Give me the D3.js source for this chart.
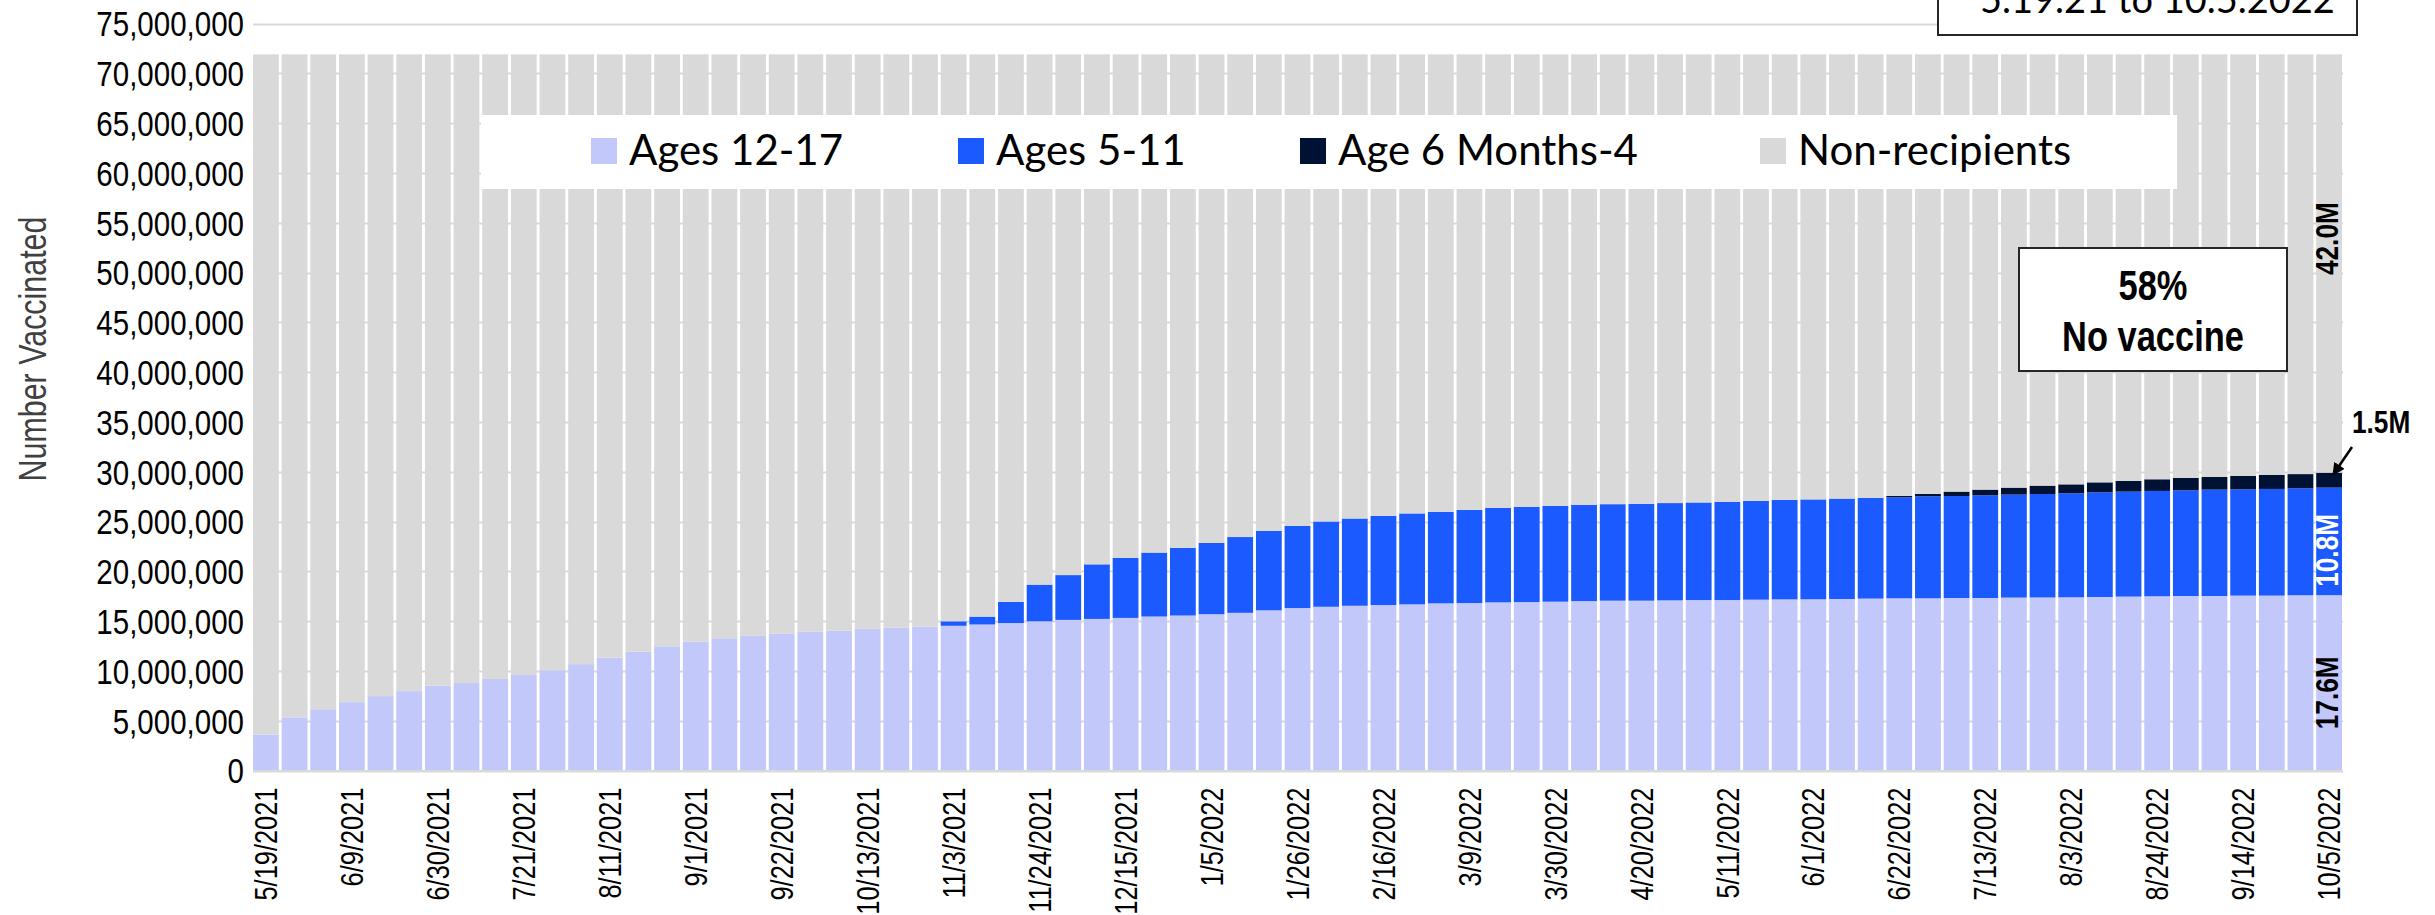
<!DOCTYPE html>
<meta charset="utf-8">
<html>
<head>
    <script src="https://cdn.jsdelivr.net/npm/d3@7"></script>
    <style>
        body { margin: 0; background: #fff; }
        .narrow { font-family: 'Liberation Sans', Arial, sans-serif; }
        .calib { font-family: Lato, Carlito, Calibri, sans-serif; }
    </style>
</head>
<body>
    <script>
    // weekly report dates
    var dates = [
        "5/19/2021","5/26/2021","6/2/2021","6/9/2021","6/16/2021","6/23/2021","6/30/2021",
        "7/7/2021","7/14/2021","7/21/2021","7/28/2021","8/4/2021","8/11/2021","8/18/2021",
        "8/25/2021","9/1/2021","9/8/2021","9/15/2021","9/22/2021","9/29/2021","10/6/2021",
        "10/13/2021","10/20/2021","10/27/2021","11/3/2021","11/10/2021","11/17/2021","11/24/2021",
        "12/1/2021","12/8/2021","12/15/2021","12/22/2021","12/29/2021",
        "1/5/2022","1/12/2022","1/19/2022","1/26/2022","2/2/2022","2/9/2022","2/16/2022",
        "2/23/2022","3/2/2022","3/9/2022","3/16/2022","3/23/2022","3/30/2022","4/6/2022",
        "4/13/2022","4/20/2022","4/27/2022","5/4/2022","5/11/2022","5/18/2022","5/25/2022",
        "6/1/2022","6/8/2022","6/15/2022","6/22/2022","6/29/2022","7/6/2022","7/13/2022",
        "7/20/2022","7/27/2022","8/3/2022","8/10/2022","8/17/2022","8/24/2022","8/31/2022",
        "9/7/2022","9/14/2022","9/21/2022","9/28/2022","10/5/2022"
    ];

    // millions of people
    var ages12to17 = [
        3.61, 5.34, 6.15, 6.86, 7.47, 7.97, 8.51, 8.78, 9.19, 9.59, 10.07, 10.68, 11.32, 11.93,
        12.47, 12.94, 13.28, 13.52, 13.72, 13.93, 14.03, 14.23, 14.33, 14.43, 14.53, 14.66, 14.80,
        14.98, 15.12, 15.22, 15.32, 15.46, 15.56, 15.69, 15.83, 16.08, 16.31, 16.44, 16.54, 16.61,
        16.68, 16.78, 16.81, 16.88, 16.91, 16.95, 17.01, 17.05, 17.05, 17.08, 17.11, 17.11, 17.15,
        17.18, 17.19, 17.22, 17.26, 17.29, 17.29, 17.32, 17.32, 17.36, 17.37, 17.39, 17.42, 17.46,
        17.49, 17.52, 17.52, 17.56, 17.56, 17.59, 17.60
    ];
    var ages5to11 = [
        0, 0, 0, 0, 0, 0, 0, 0, 0, 0, 0, 0, 0, 0, 0, 0, 0, 0, 0, 0, 0, 0, 0, 0,
        0.45, 0.79, 2.13, 3.68, 4.50, 5.48, 6.02, 6.42, 6.79, 7.16, 7.61, 7.98, 8.25, 8.56, 8.76,
        8.96, 9.13, 9.19, 9.36, 9.50, 9.57, 9.63, 9.67, 9.69, 9.73, 9.77, 9.80, 9.87, 9.93, 10.00,
        10.03, 10.08, 10.12, 10.14, 10.24, 10.24, 10.31, 10.34, 10.39, 10.44, 10.51, 10.54, 10.58,
        10.61, 10.68, 10.67, 10.71, 10.74, 10.80
    ];
    var ages6moTo4 = [
        0, 0, 0, 0, 0, 0, 0, 0, 0, 0, 0, 0, 0, 0, 0, 0, 0, 0, 0, 0, 0, 0, 0, 0, 0, 0, 0, 0, 0, 0,
        0, 0, 0, 0, 0, 0, 0, 0, 0, 0, 0, 0, 0, 0, 0, 0, 0, 0, 0, 0, 0, 0, 0, 0, 0, 0, 0,
        0.13, 0.23, 0.44, 0.57, 0.70, 0.84, 0.90, 1.00, 1.07, 1.17, 1.24, 1.27, 1.34, 1.40, 1.43, 1.50
    ];
    // total population under 18 (17.6M + 10.8M + 1.5M + 42.0M)
    var population = 71.9;

    var seriesKeys = ["a12", "a5", "a0", "none"];
    var seriesNames = ["Ages 12-17", "Ages 5-11", "Age 6 Months-4", "Non-recipients"];
    var seriesColors = ["#c3c8fb", "#1a5aff", "#001233", "#d9d9d9"];
    var yTickValues = [0, 5, 10, 15, 20, 25, 30, 35, 40, 45, 50, 55, 60, 65, 70, 75];

    var rows = dates.map(function(d, i) {
        var vax = ages12to17[i] + ages5to11[i] + ages6moTo4[i];
        return { date: d, a12: ages12to17[i], a5: ages5to11[i], a0: ages6moTo4[i], none: population - vax };
    });

    var NARROW = "scale(0.82,1)";  // no Arial Narrow installed, squeeze Liberation Sans

    var W = 2435, H = 915;
    var svg = d3.select("body").append("svg")
        .attr("width", W)
        .attr("height", H);

    var x = d3.scaleBand()
        .domain(dates)
        .range([253, 2342])
        .paddingInner(0.1)
        .paddingOuter(0);

    var y = d3.scaleLinear()
        .domain([0, 75])
        .range([770.5, 23.5]);

    // gridlines
    svg.append("g").selectAll("line")
        .data(yTickValues)
        .enter().append("line")
        .attr("x1", 253).attr("x2", 2343)
        .attr("y1", function(d) { return Math.round(y(d)) + 0.5; })
        .attr("y2", function(d) { return Math.round(y(d)) + 0.5; })
        .attr("stroke", "#d9d9d9")
        .attr("stroke-width", 2);

    // y axis labels
    svg.append("g").selectAll("text")
        .data(yTickValues)
        .enter().append("text")
        .attr("class", "narrow")
        .attr("transform", function(d) { return "translate(244," + y(d) + ") " + NARROW; })
        .attr("dy", "0.36em")
        .attr("text-anchor", "end")
        .attr("font-size", 36)
        .attr("fill", "#000")
        .text(function(d) { return d3.format(",")(d * 1e6); });

    svg.append("text")
        .attr("class", "narrow")
        .attr("transform", "translate(46,349) rotate(-90) scale(0.78,1)")
        .attr("text-anchor", "middle")
        .attr("font-size", 39)
        .attr("fill", "#404040")
        .text("Number Vaccinated");

    // stacked bars
    var stacked = d3.stack().keys(seriesKeys)(rows);
    svg.append("g").selectAll("g")
        .data(stacked)
        .enter().append("g")
        .attr("fill", function(d, i) { return seriesColors[i]; })
        .selectAll("rect")
        .data(function(d) { return d; })
        .enter().append("rect")
        .attr("x", function(d) { return x(d.data.date); })
        .attr("width", x.bandwidth())
        .attr("y", function(d) { return y(d[1]); })
        .attr("height", function(d) { return y(d[0]) - y(d[1]); });

    // x axis
    var xAxis = d3.axisBottom(x)
        .tickValues(dates.filter(function(d, i) { return i % 3 === 0; }))
        .tickSize(0);
    var gx = svg.append("g")
        .attr("transform", "translate(0," + y(0) + ")")
        .call(xAxis);
    gx.select(".domain").attr("stroke", "#d9d9d9").attr("stroke-width", 2);
    gx.selectAll("text")
        .attr("class", "narrow")
        .attr("font-family", null)
        .attr("font-size", 31)
        .attr("fill", "#000")
        .attr("transform", "rotate(-90) translate(-17,0) " + NARROW)
        .attr("text-anchor", "end")
        .attr("x", 0)
        .attr("y", 0)
        .attr("dy", "0.36em");

    // legend
    var legend = svg.append("g");
    legend.append("rect")
        .attr("x", 481).attr("y", 115)
        .attr("width", 1696).attr("height", 74)
        .attr("fill", "#fff");
    var legendX = [591, 958, 1300, 1760];
    var items = legend.selectAll("g.item")
        .data(seriesNames)
        .enter().append("g")
        .attr("class", "item")
        .attr("transform", function(d, i) { return "translate(" + legendX[i] + ",0)"; });
    items.append("rect")
        .attr("x", 0).attr("y", 138)
        .attr("width", 26).attr("height", 26)
        .attr("fill", function(d, i) { return seriesColors[i]; });
    items.append("text")
        .attr("class", "calib")
        .attr("x", 38).attr("y", 165)
        .attr("font-size", 42)
        .attr("fill", "#000")
        .text(function(d) { return d; });

    // title box (top clipped)
    svg.append("rect")
        .attr("x", 1938).attr("y", -60)
        .attr("width", 419).attr("height", 95)
        .attr("fill", "#fff")
        .attr("stroke", "#262626")
        .attr("stroke-width", 2);
    svg.append("text")
        .attr("class", "calib")
        .attr("x", 1980).attr("y", 13)
        .attr("font-size", 38)
        .attr("fill", "#000")
        .text("5.19.21 to 10.5.2022");

    // callout box
    svg.append("rect")
        .attr("x", 2019).attr("y", 248)
        .attr("width", 268).attr("height", 123)
        .attr("fill", "#fff")
        .attr("stroke", "#262626")
        .attr("stroke-width", 2);
    svg.append("text")
        .attr("class", "narrow")
        .attr("transform", "translate(2153,300) " + NARROW)
        .attr("text-anchor", "middle")
        .attr("font-size", 42).attr("font-weight", "bold")
        .text("58%");
    svg.append("text")
        .attr("class", "narrow")
        .attr("transform", "translate(2153,351) " + NARROW)
        .attr("text-anchor", "middle")
        .attr("font-size", 42).attr("font-weight", "bold")
        .text("No vaccine");

    // last bar labels
    var last = rows[rows.length - 1];
    var cx = x(last.date) + x.bandwidth() / 2;
    var barLabels = [
        { text: "42.0M", v: 53.4, color: "#000" },
        { text: "10.8M", v: 22.1, color: "#fff" },
        { text: "17.6M", v: 7.8, color: "#000" }
    ];
    svg.append("g").selectAll("text")
        .data(barLabels)
        .enter().append("text")
        .attr("class", "narrow")
        .attr("transform", function(d) { return "translate(" + (cx - 3) + "," + y(d.v) + ") rotate(-90) " + NARROW; })
        .attr("text-anchor", "middle")
        .attr("dy", "0.36em")
        .attr("font-size", 32).attr("font-weight", "bold")
        .attr("fill", function(d) { return d.color; })
        .text(function(d) { return d.text; });

    // 1.5M callout with arrow
    svg.append("defs").append("marker")
        .attr("id", "arrow")
        .attr("viewBox", "0 0 10 10")
        .attr("refX", 9).attr("refY", 5)
        .attr("markerWidth", 5).attr("markerHeight", 5)
        .attr("orient", "auto")
        .append("path")
        .attr("d", "M0,0L10,5L0,10z")
        .attr("fill", "#000");
    var topLast = y(last.a12 + last.a5 + last.a0);
    svg.append("line")
        .attr("x1", 2352).attr("y1", 447)
        .attr("x2", cx + 4).attr("y2", topLast + 2)
        .attr("stroke", "#000")
        .attr("stroke-width", 2.5)
        .attr("marker-end", "url(#arrow)");
    svg.append("text")
        .attr("class", "narrow")
        .attr("transform", "translate(2352,433) " + NARROW)
        .attr("font-size", 32).attr("font-weight", "bold")
        .text("1.5M");
    </script>
</body>
</html>
